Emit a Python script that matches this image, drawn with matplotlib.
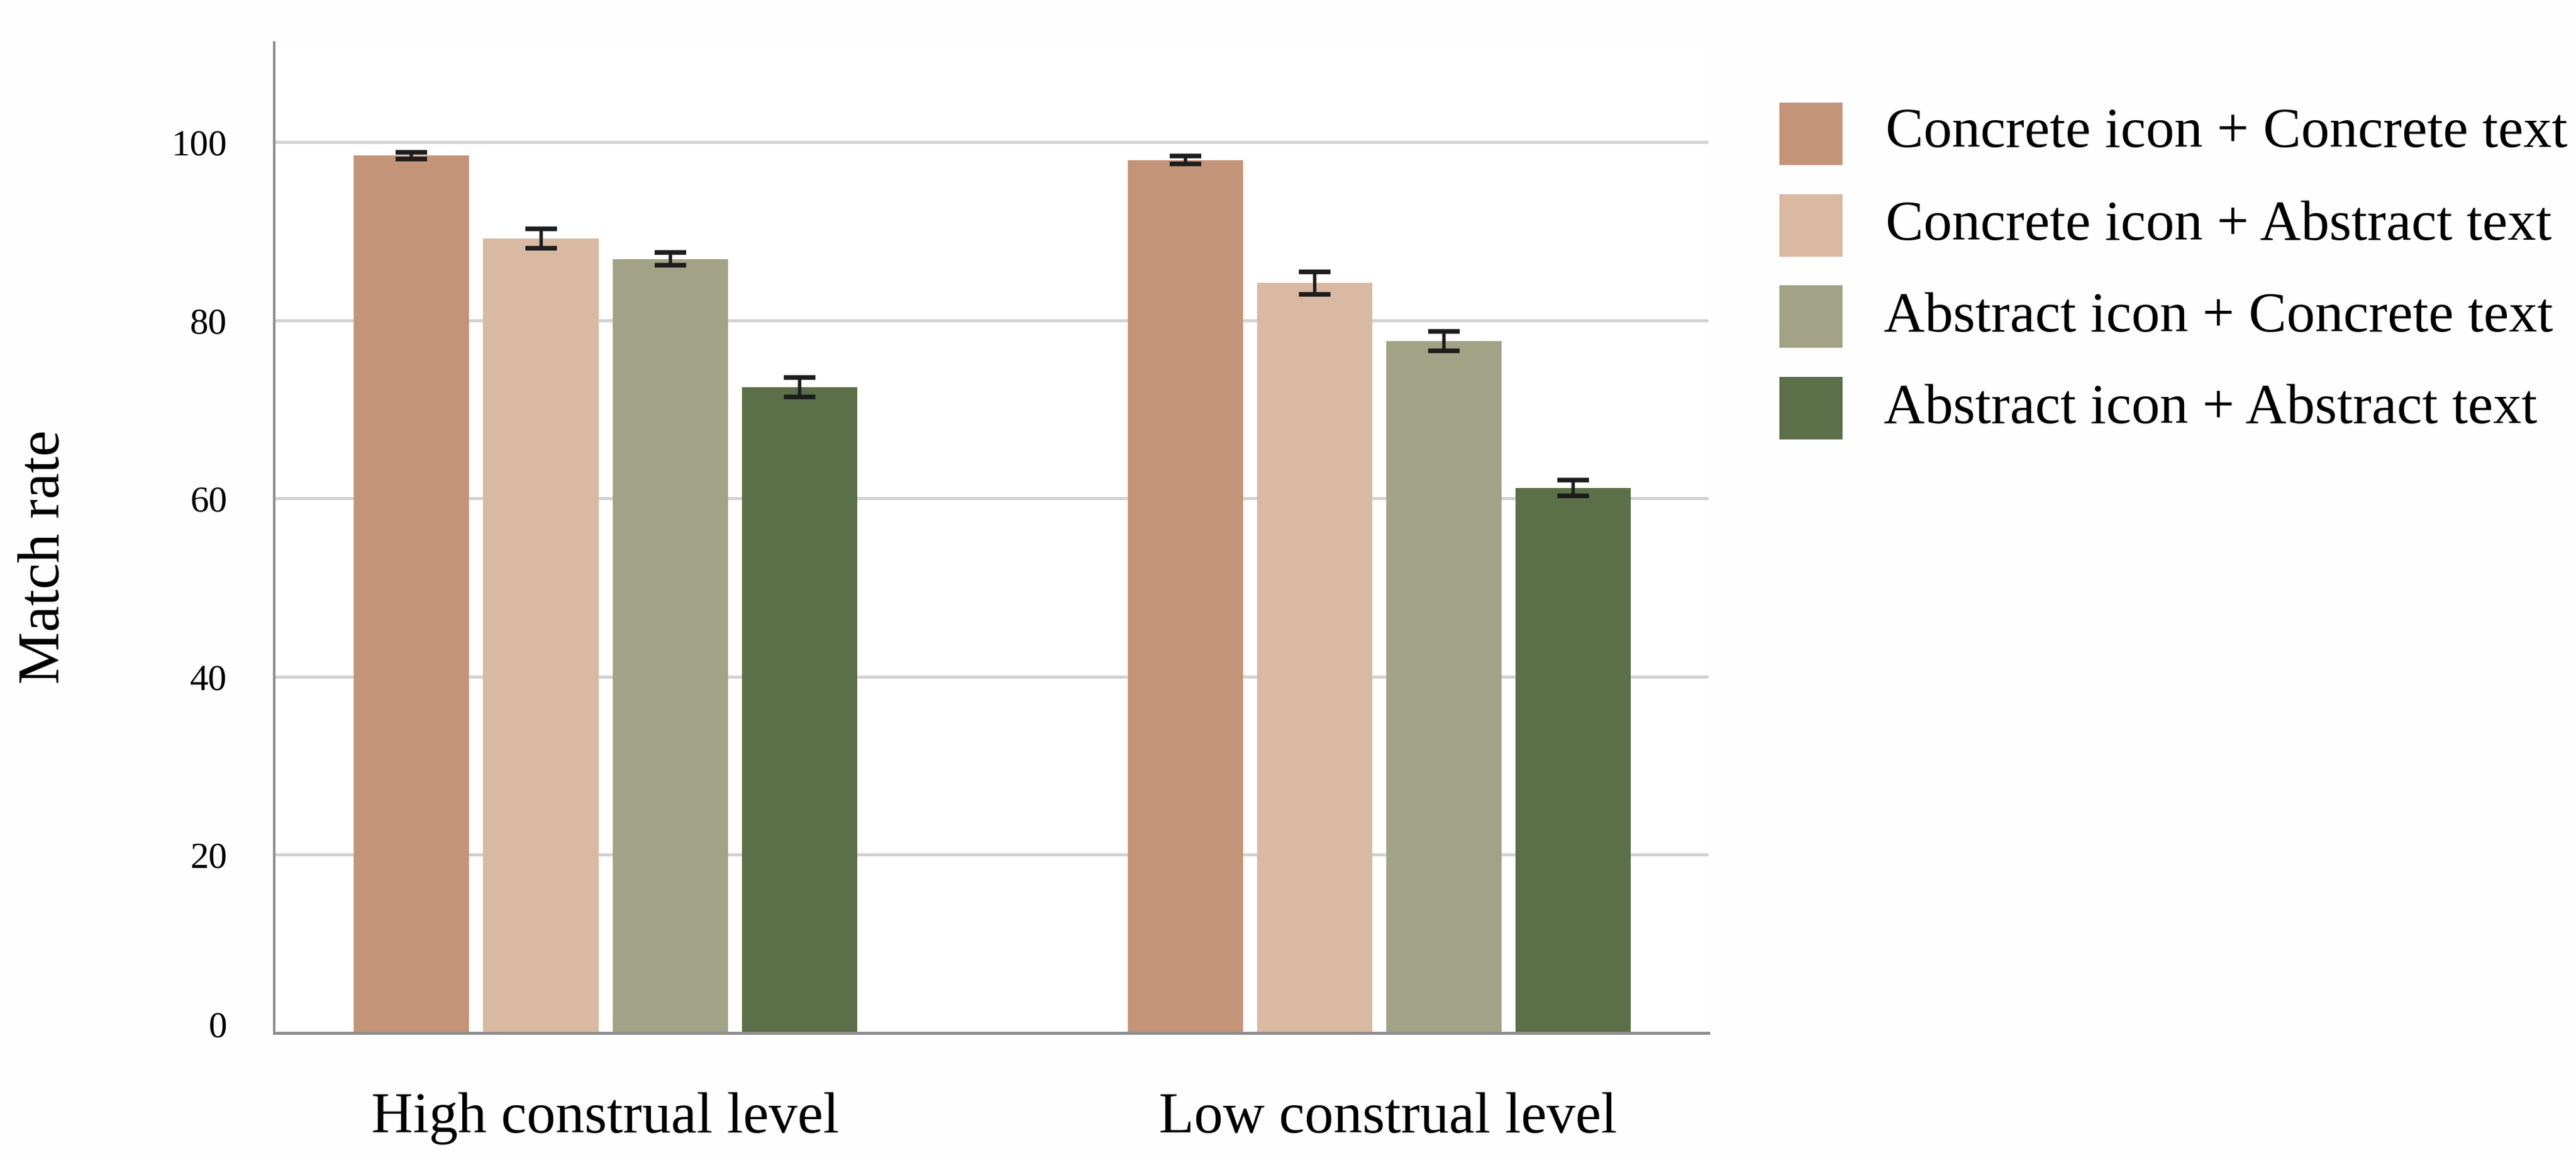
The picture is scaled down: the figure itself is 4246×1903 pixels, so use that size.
"""
Match rate by construal level and icon/text combination.
"""

import matplotlib.pyplot as plt
import numpy as np
from matplotlib.patches import Rectangle
from matplotlib.transforms import ScaledTranslation

WIDTH = 4246
HEIGHT = 1903
DPI = 100

groups = ["High construal level", "Low construal level"]
conditions = [
    "Concrete icon + Concrete text",
    "Concrete icon + Abstract text",
    "Abstract icon + Concrete text",
    "Abstract icon + Abstract text",
]
match_rate_high = [98.5, 89.2, 86.9, 72.5]
match_rate_low = [98.0, 84.2, 77.7, 61.2]
error_high = [0.4, 1.1, 0.7, 1.1]
error_low = [0.45, 1.25, 1.1, 0.9]
colors = ["#c49479", "#dab9a3", "#a2a287", "#5b7048"]
y_ticks = [0, 20, 40, 60, 80, 100]

plt.rcParams["font.family"] = ["Liberation Serif", "DejaVu Serif"]

fig = plt.figure(figsize=(WIDTH / DPI, HEIGHT / DPI), dpi=DPI)
ax = fig.add_axes(
    [452 / WIDTH, 1 - 1702 / HEIGHT, (2816 - 452) / WIDTH, (1702 - 70) / HEIGHT]
)

pitch = 0.167
bar_width = 0.149
group_pos = np.arange(len(groups))

for i, color in enumerate(colors):
    x = group_pos + (i - 1.5) * pitch
    values = [match_rate_high[i], match_rate_low[i]]
    errors = [error_high[i], error_low[i]]
    ax.bar(x, values, bar_width, color=color, zorder=2)
    ax.errorbar(
        x,
        values,
        yerr=errors,
        fmt="none",
        ecolor="#1c1c1c",
        elinewidth=4,
        capsize=19,
        capthick=5.5,
        zorder=3,
    )

ax.set_xlim(-0.428, 1.425)
ax.set_ylim(0, 111.2)
ax.set_yticks(y_ticks)
ax.set_xticks(group_pos)
ax.set_xticklabels(groups, fontsize=68.5)
ax.tick_params(axis="x", length=0, pad=70)
ax.tick_params(axis="y", length=0, pad=56, labelsize=44)
ax.grid(axis="y", color="#d2d2d2", linewidth=3.6, zorder=0)
ax.set_axisbelow(True)

for side in ("top", "right"):
    ax.spines[side].set_visible(False)
ax.spines["left"].set_color("#8e8e8e")
ax.spines["left"].set_linewidth(3)
ax.spines["bottom"].set_color("#8e8e8e")
ax.spines["bottom"].set_linewidth(3.6)

# the 0 label sits a little above the axis line
zero_label = ax.get_yticklabels()[0]
zero_label.set_transform(
    zero_label.get_transform() + ScaledTranslation(0, 15 / DPI, fig.dpi_scale_trans)
)

# second group label is off-centre from its bars
low_label = ax.get_xticklabels()[1]
low_label.set_transform(
    low_label.get_transform() + ScaledTranslation(14 / DPI, 0, fig.dpi_scale_trans)
)

fig.text(74 / WIDTH, 1 - 918 / HEIGHT, "Match rate", fontsize=70, rotation=90,
         ha="center", va="center")

# legend by hand, the swatches are taller than legend handles like to be
swatch_tops = [169, 320, 470, 621]
baselines = [242, 395, 546, 697]
text_left = [3108, 3108, 3105, 3105]
for i, label in enumerate(conditions):
    fig.add_artist(
        Rectangle(
            (2933 / WIDTH, 1 - (swatch_tops[i] + 103) / HEIGHT),
            104 / WIDTH,
            103 / HEIGHT,
            transform=fig.transFigure,
            facecolor=colors[i],
            edgecolor="none",
        )
    )
    fig.text(text_left[i] / WIDTH, 1 - baselines[i] / HEIGHT, label, fontsize=67.4,
             ha="left", va="baseline")

fig.savefig("out.png", dpi=DPI, facecolor="#fefefe")
